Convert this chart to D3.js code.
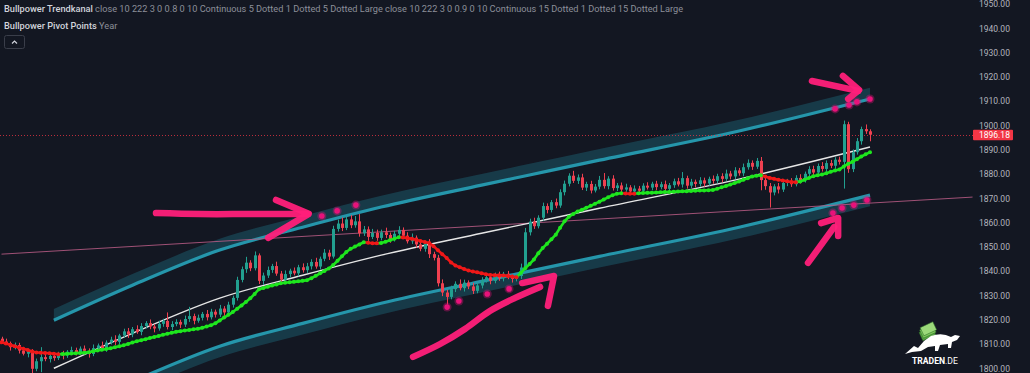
<!DOCTYPE html>
<html lang="en">
<head>
<meta charset="utf-8">
<title>Bullpower Trendkanal</title>
<script src="https://d3js.org/d3.v7.min.js"></script>
<style>
  html, body { margin: 0; padding: 0; background: #131722; overflow: hidden; }
  svg { display: block; }
  text { font-family: Roboto, "DejaVu Sans", sans-serif; }
</style>
</head>
<body>
<script>
const w = 1030, h = 373;

// candles: open of a bar is the close of the bar before
const firstOpen = 1812.2;
const closes = [
  1811.0, 1810.4, 1808.7, 1809.6, 1807.3, 1806.0, 1807.4, 1799.8, 1802.9, 1804.6,
  1803.8, 1805.1, 1804.2, 1806.0, 1805.3, 1806.8, 1807.5, 1806.6, 1808.1, 1807.2,
  1805.9, 1808.3, 1809.4, 1808.2, 1810.6, 1811.8, 1810.9, 1813.5, 1815.2, 1814.0,
  1816.1, 1815.0, 1817.4, 1818.6, 1817.2, 1816.4, 1818.3, 1819.5, 1817.0, 1818.2,
  1819.1, 1818.0, 1820.3, 1821.5, 1819.6, 1820.8, 1822.4, 1821.0, 1823.3, 1822.1,
  1824.6, 1823.0, 1826.2, 1829.0, 1836.4, 1840.8, 1843.5, 1841.2, 1846.5, 1836.0,
  1838.2, 1840.5, 1842.1, 1839.0, 1836.5, 1838.8, 1840.2, 1839.1, 1841.6, 1840.4,
  1842.0, 1843.8, 1841.9, 1845.1, 1847.6, 1846.0, 1857.4, 1859.6, 1857.8, 1861.3,
  1858.9, 1860.5, 1855.6, 1857.2, 1854.1, 1855.8, 1853.7, 1856.0, 1854.9, 1853.2,
  1855.4, 1857.0, 1854.6, 1852.3, 1853.8, 1851.0, 1849.2, 1851.4, 1847.0, 1845.5,
  1835.0, 1831.2, 1829.4, 1832.6, 1834.8, 1833.0, 1835.3, 1833.7, 1831.9, 1834.1,
  1836.2, 1837.5, 1836.0, 1838.4, 1837.1, 1838.9, 1837.6, 1836.8, 1838.0, 1841.5,
  1856.0, 1860.4, 1858.5, 1862.0, 1866.8, 1865.2, 1868.4, 1867.0, 1872.5, 1876.0,
  1879.3, 1877.2, 1878.6, 1874.4, 1875.9, 1873.2, 1874.8, 1877.6, 1875.0, 1878.1,
  1874.2, 1875.3, 1873.6, 1874.5, 1872.8, 1874.0, 1873.1, 1875.2, 1874.4, 1876.0,
  1874.6, 1875.8, 1873.9, 1875.4, 1877.0, 1875.7, 1878.3, 1875.2, 1876.8, 1875.9,
  1877.4, 1876.1, 1878.0, 1877.2, 1879.1, 1878.0, 1880.2, 1879.0, 1881.5, 1880.3,
  1882.8, 1884.6, 1883.0, 1885.4, 1877.5, 1875.0, 1872.4, 1874.9, 1873.6, 1876.3,
  1877.0, 1875.8, 1878.4, 1877.5, 1880.1, 1882.0, 1880.6, 1883.3, 1882.1, 1884.5,
  1883.4, 1885.9, 1885.0, 1900.5, 1882.0, 1889.0, 1893.5, 1898.5, 1897.6, 1896.18
];
const wickUp = [
  0.8, 1.2, 0.6, 1.0, 0.9, 1.5, 0.7, 0.5, 1.1, 4.1,
  1.3, 0.9, 1.6, 0.8, 1.2, 0.7, 1.4, 1.0, 0.9, 1.3,
  1.0, 1.5, 0.8, 1.6, 0.9, 1.2, 1.8, 0.7, 1.1, 1.4,
  0.9, 1.6, 1.2, 0.8, 1.5, 1.0, 1.3, 0.9, 3.5, 1.2,
  1.1, 0.9, 1.4, 3.8, 1.0, 1.3, 0.8, 1.6, 1.2, 0.9,
  1.5, 1.0, 1.2, 0.9, 1.3, 1.1, 2.4, 1.0, 1.6, 0.8,
  1.2, 1.4, 0.9, 1.8, 1.1, 1.5, 0.8, 1.3, 1.0, 1.6,
  1.4, 1.1, 1.7, 0.9, 1.5, 1.2, 1.3, 1.6, 2.5, 1.1,
  1.8, 2.2, 3.0, 1.4, 1.2, 1.6, 1.3, 1.1, 1.9, 1.0,
  1.2, 1.5, 1.0, 1.4, 1.7, 0.9, 1.3, 1.1, 1.8, 1.0,
  1.2, 1.6, 1.1, 1.4, 1.0, 1.8, 1.2, 0.9, 1.5, 1.1,
  1.3, 0.9, 1.5, 1.0, 1.4, 0.8, 1.2, 1.0, 0.9, 1.6,
  1.8, 1.2, 1.6, 1.0, 1.4, 1.1, 0.9, 1.5, 1.2, 1.3,
  1.0, 2.0, 1.2, 1.5, 0.9, 1.3, 1.1, 1.6, 2.8, 1.0,
  1.4, 1.0, 1.2, 1.5, 0.9, 1.3, 1.1, 1.0, 1.4, 0.8,
  1.2, 1.0, 1.5, 0.9, 1.1, 1.4, 2.5, 1.0, 1.2, 0.9,
  1.3, 1.1, 0.9, 1.4, 1.0, 1.2, 1.6, 1.1, 1.3, 1.0,
  1.5, 1.4, 1.0, 1.2, 1.6, 1.1, 1.3, 0.9, 1.4, 1.2,
  1.0, 1.3, 1.1, 1.5, 0.9, 1.2, 1.4, 1.0, 1.6, 1.1,
  1.3, 1.0, 1.2, 1.5, 1.0, 1.1, 1.3, 1.0, 1.9, 0.8
];
const wickDn = [
  1.0, 0.8, 1.4, 0.9, 1.2, 0.7, 1.5, 2.3, 1.0, 4.5,
  0.9, 1.4, 1.1, 0.8, 1.6, 1.0, 0.9, 1.3, 0.8, 1.2,
  1.5, 0.9, 1.2, 1.0, 1.4, 0.8, 1.3, 1.1, 0.9, 1.5,
  1.2, 0.8, 1.4, 1.0, 1.1, 1.6, 0.9, 1.2, 1.0, 1.3,
  0.9, 1.4, 1.0, 1.2, 1.5, 0.8, 1.1, 1.3, 0.9, 1.2,
  1.0, 1.4, 0.9, 1.2, 1.1, 1.0, 1.5, 1.2, 0.9, 1.3,
  1.6, 1.0, 1.2, 0.9, 1.4, 1.1, 1.3, 0.8, 1.2, 1.0,
  1.1, 1.3, 0.9, 1.2, 1.0, 1.4, 0.8, 1.1, 1.3, 0.9,
  1.2, 1.0, 1.4, 1.1, 1.6, 0.9, 1.2, 1.0, 1.3, 1.5,
  1.0, 1.2, 1.4, 0.9, 1.1, 1.3, 1.0, 1.2, 1.6, 1.1,
  1.3, 1.5, 3.2, 1.0, 1.2, 0.9, 1.4, 1.1, 1.3, 1.0,
  1.2, 0.9, 1.4, 1.0, 1.1, 1.3, 0.9, 1.5, 1.0, 1.2,
  1.0, 1.3, 1.1, 0.9, 1.2, 1.4, 1.0, 1.1, 0.9, 1.3,
  1.1, 0.9, 1.3, 1.0, 1.4, 1.2, 0.8, 1.1, 1.0, 1.3,
  1.0, 1.2, 1.5, 0.9, 1.1, 1.3, 1.0, 1.2, 0.8, 1.1,
  1.2, 0.9, 1.4, 1.0, 1.1, 0.8, 1.3, 1.2, 1.0, 1.4,
  1.1, 1.3, 0.9, 1.2, 1.0, 1.4, 0.8, 1.2, 1.1, 1.0,
  1.2, 1.0, 1.3, 0.9, 4.2, 1.5, 6.2, 1.2, 1.6, 1.0,
  1.3, 1.1, 0.9, 1.4, 1.0, 1.2, 1.3, 0.9, 1.1, 1.2,
  1.0, 1.3, 1.1, 11.0, 1.5, 1.2, 1.0, 1.4, 1.1, 2.7
];

// smoothed trend line (green rising, red falling)
const trendMa = [
  1810.7, 1810.2, 1809.7, 1809.1, 1808.6, 1808.05, 1807.5, 1806.9, 1806.5, 1806.4,
  1806.3, 1806.2, 1806.0, 1805.8, 1805.85, 1805.95, 1806.1, 1806.2, 1806.3, 1806.45,
  1806.6, 1807.0, 1807.35, 1807.65, 1807.95, 1808.25, 1808.7, 1809.1, 1809.45, 1810.0,
  1810.6, 1811.1, 1811.6, 1812.0, 1812.5, 1812.9, 1813.3, 1813.8, 1814.2, 1814.65,
  1815.0, 1815.3, 1815.55, 1815.8, 1816.05, 1816.3, 1816.65, 1817.2, 1817.75, 1818.5,
  1819.7, 1820.9, 1822.0, 1823.15, 1824.5, 1825.9, 1827.3, 1828.8, 1830.6, 1832.6,
  1833.1, 1833.6, 1834.1, 1834.5, 1835.0, 1835.2, 1835.4, 1835.6, 1835.8, 1836.0,
  1836.3, 1837.1, 1838.1, 1839.1, 1840.1, 1841.1, 1842.5, 1844.3, 1846.1, 1847.9,
  1849.2, 1850.1, 1851.0, 1851.9, 1851.7, 1851.5, 1851.45, 1851.6, 1852.1, 1852.7,
  1853.3, 1854.0, 1853.9, 1853.6, 1853.3, 1852.9, 1852.4, 1852.0, 1851.6, 1850.3,
  1848.6, 1847.0, 1845.4, 1843.6, 1842.3, 1841.6, 1840.9, 1840.3, 1839.9, 1839.5,
  1839.1, 1838.7, 1838.4, 1838.35, 1838.3, 1838.25, 1838.0, 1837.8, 1837.5, 1839.3,
  1841.2, 1842.9, 1844.8, 1847.4, 1849.5, 1851.3, 1853.1, 1855.0, 1857.9, 1860.5,
  1862.4, 1863.5, 1864.6, 1865.3, 1866.1, 1866.9, 1867.8, 1868.6, 1869.5, 1870.4,
  1871.3, 1871.9, 1872.1, 1872.0, 1871.9, 1871.85, 1872.1, 1872.2, 1872.25, 1872.3,
  1872.35, 1872.45, 1872.55, 1872.6, 1872.7, 1872.8, 1872.85, 1872.9, 1873.0, 1873.1,
  1873.2, 1873.25, 1873.3, 1873.4, 1873.9, 1874.5, 1875.1, 1875.7, 1876.3, 1876.95,
  1877.6, 1878.3, 1878.95, 1879.3, 1879.5, 1879.0, 1878.4, 1878.0, 1877.6, 1877.3,
  1877.0, 1876.7, 1876.65, 1876.9, 1877.6, 1878.4, 1879.1, 1879.5, 1879.8, 1880.3,
  1880.9, 1881.4, 1881.9, 1883.1, 1884.2, 1885.0, 1886.1, 1887.2, 1888.1, 1889.0
];

// trend channel: middle line read at a few bars, bands at +/- channelWidth
const channelIdx = [12, 30, 50, 69, 87, 110, 121, 137, 169, 199];
const channelMid = [1800.0, 1814.4, 1828.9, 1838.3, 1846.6, 1855.6, 1859.8, 1865.9, 1877.9, 1891.1];
const channelWidth = 19.8;
const bandDepth = 4.6;

// yearly pivot line and the touch markers on the channel
const pivotLine = [[0, 1847.0], [222.5, 1870.5]];
const touchDots = [
  [73.4, 1862.7], [76.9, 1864.8], [81.2, 1867.2],
  [102.1, 1825.2], [104.8, 1827.7], [111.3, 1830.6], [116.3, 1832.7],
  [191.0, 1906.8], [194.2, 1908.4], [196.0, 1909.7], [199.0, 1910.9],
  [190.5, 1863.9], [192.6, 1866.0], [195.3, 1867.2], [198.3, 1869.3]
];

// hand drawn arrows [bar, price]
const arrows = [
  { shaft: [[35.4, 1863.9], [45.5, 1863.5], [56.9, 1863.5], [70.2, 1863.5]],
    head: [[62.9, 1869.3], [70.4, 1863.6], [61.1, 1853.7]] },
  { shaft: [[94.3, 1804.7], [100.5, 1810.0], [106.2, 1816.2], [111.9, 1823.6], [117.7, 1829.0], [123.4, 1833.5]],
    head: [[119.3, 1835.1], [126.6, 1838.0], [125.2, 1825.7]] },
  { shaft: [[185.7, 1918.3], [196.3, 1914.2]],
    head: [[192.8, 1920.4], [196.5, 1914.6], [194.0, 1910.9]] },
  { shaft: [[184.8, 1843.4], [190.8, 1858.2]],
    head: [[187.8, 1859.8], [191.7, 1861.9], [191.7, 1854.5]] }
];

const priceTicks = [1800, 1810, 1820, 1830, 1840, 1850, 1860, 1870, 1880, 1890, 1900, 1910, 1920, 1930, 1940, 1950];
const lastPrice = 1896.18;

const upColor = "#22a090";
const downColor = "#ef4050";
const channelColor = "#2596ab";
const pinkColor = "#ff1f7a";

const svg = d3.select("body")
  .append("svg")
  .attr("width", w)
  .attr("height", h);

svg.append("rect")
  .attr("width", w)
  .attr("height", h)
  .attr("fill", "#131722");

const x = d3.scaleLinear().domain([0, closes.length - 1]).range([1.5, 870]);
const y = d3.scaleLinear().domain([1800, 1950]).range([368.3, 4]);
const paneRight = 973;

const chart = svg.append("g");

// channel bands
const channel = channelIdx.map((d, i) => ({ i: d, mid: channelMid[i] }));

const bandArea = (off, depth) => d3.area()
  .x(d => x(d.i))
  .y0(d => y(d.mid + off))
  .y1(d => y(d.mid + off + depth))
  .curve(d3.curveMonotoneX);

const bandLine = off => d3.line()
  .x(d => x(d.i))
  .y(d => y(d.mid + off))
  .curve(d3.curveMonotoneX);

chart.append("path")
  .datum(channel)
  .attr("d", bandArea(channelWidth, bandDepth))
  .attr("fill", channelColor)
  .attr("fill-opacity", 0.28);

chart.append("path")
  .datum(channel)
  .attr("d", bandArea(-channelWidth, -bandDepth))
  .attr("fill", channelColor)
  .attr("fill-opacity", 0.28);

[channelWidth, -channelWidth].forEach(off => {
  chart.append("path")
    .datum(channel)
    .attr("d", bandLine(off))
    .attr("fill", "none")
    .attr("stroke", channelColor)
    .attr("stroke-width", 3.2);
});

// pivot line
chart.append("line")
  .attr("x1", x(pivotLine[0][0]))
  .attr("y1", y(pivotLine[0][1]))
  .attr("x2", x(pivotLine[1][0]))
  .attr("y2", y(pivotLine[1][1]))
  .attr("stroke", "#b85c85")
  .attr("stroke-opacity", 0.85)
  .attr("stroke-width", 1);

// last price line
chart.append("line")
  .attr("x1", 0)
  .attr("x2", paneRight)
  .attr("y1", Math.round(y(lastPrice)) + 0.5)
  .attr("y2", Math.round(y(lastPrice)) + 0.5)
  .attr("stroke", "#f23645")
  .attr("stroke-opacity", 0.75)
  .attr("stroke-dasharray", "1,2");

// middle line
chart.append("path")
  .datum(channel)
  .attr("d", bandLine(0))
  .attr("fill", "none")
  .attr("stroke", "#e6e6e6")
  .attr("stroke-width", 1.4);

// candles
const bars = closes.map((c, i) => {
  const o = i === 0 ? firstOpen : closes[i - 1];
  return {
    i: i, o: o, c: c,
    hi: Math.max(o, c) + wickUp[i],
    lo: Math.min(o, c) - wickDn[i]
  };
});

const candle = chart.append("g")
  .selectAll("g")
  .data(bars)
  .enter()
  .append("g")
  .attr("fill", d => d.c >= d.o ? upColor : downColor)
  .attr("stroke", d => d.c >= d.o ? upColor : downColor);

candle.append("line")
  .attr("x1", d => Math.round(x(d.i)) + 0.5)
  .attr("x2", d => Math.round(x(d.i)) + 0.5)
  .attr("y1", d => y(d.hi))
  .attr("y2", d => y(d.lo))
  .attr("stroke-width", 1);

candle.append("rect")
  .attr("x", d => Math.round(x(d.i)) - 1)
  .attr("width", 3)
  .attr("y", d => y(Math.max(d.o, d.c)))
  .attr("height", d => Math.max(1, y(Math.min(d.o, d.c)) - y(Math.max(d.o, d.c))))
  .attr("stroke", "none");

// trend line with dots
const maColor = i => (i === 0 || trendMa[i] < trendMa[i - 1]) ? "#f01818" : "#1ee61e";

chart.append("g")
  .selectAll("line")
  .data(trendMa.slice(1))
  .enter()
  .append("line")
  .attr("x1", (d, k) => x(k))
  .attr("y1", (d, k) => y(trendMa[k]))
  .attr("x2", (d, k) => x(k + 1))
  .attr("y2", d => y(d))
  .attr("stroke", (d, k) => maColor(k + 1))
  .attr("stroke-width", 2.6);

chart.append("g")
  .selectAll("circle")
  .data(trendMa)
  .enter()
  .append("circle")
  .attr("cx", (d, i) => x(i))
  .attr("cy", d => y(d))
  .attr("r", 2)
  .attr("fill", (d, i) => maColor(i));

// touch markers
const dots = chart.append("g")
  .selectAll("g")
  .data(touchDots)
  .enter()
  .append("g");

dots.append("circle")
  .attr("cx", d => x(d[0]))
  .attr("cy", d => y(d[1]))
  .attr("r", 4.5)
  .attr("fill", "#e8127a")
  .attr("fill-opacity", 0.35);

dots.append("circle")
  .attr("cx", d => x(d[0]))
  .attr("cy", d => y(d[1]))
  .attr("r", 2.8)
  .attr("fill", "#e8127a");

// arrows
const arrowLine = d3.line()
  .x(d => x(d[0]))
  .y(d => y(d[1]))
  .curve(d3.curveCatmullRom);

const arrowHead = d3.line()
  .x(d => x(d[0]))
  .y(d => y(d[1]));

arrows.forEach(a => {
  [arrowLine(a.shaft), arrowHead(a.head)].forEach(p => {
    chart.append("path")
      .attr("d", p)
      .attr("fill", "none")
      .attr("stroke", pinkColor)
      .attr("stroke-width", 6.5)
      .attr("stroke-linecap", "round")
      .attr("stroke-linejoin", "round")
      .attr("stroke-opacity", 0.95);
  });
});

// price axis
const yAxis = d3.axisRight(y)
  .tickValues(priceTicks)
  .tickFormat(d3.format(".2f"))
  .tickSize(0)
  .tickPadding(0);

const axisG = svg.append("g")
  .attr("transform", "translate(979,0)")
  .call(yAxis);

axisG.select(".domain").remove();
axisG.selectAll("text")
  .attr("fill", "#b2b5be")
  .attr("font-size", 8.5)
  .attr("font-family", "Roboto, sans-serif");

// last price label
const lastY = y(lastPrice);
svg.append("rect")
  .attr("x", paneRight)
  .attr("y", lastY - 5)
  .attr("width", 40)
  .attr("height", 10.5)
  .attr("rx", 1)
  .attr("fill", "#f23645");

svg.append("text")
  .attr("x", 979)
  .attr("y", lastY + 3.2)
  .attr("fill", "#ffffff")
  .attr("font-size", 8.5)
  .text(d3.format(".2f")(lastPrice));

// legend
const legend = svg.append("g").attr("font-size", 9.2);

const l1 = legend.append("text").attr("x", 4).attr("y", 11.5);
l1.append("tspan").attr("fill", "#d1d4dc").attr("font-weight", 500).text("Bullpower Trendkanal");
l1.append("tspan").attr("fill", "#8c8f99")
  .text(" close 10 222 3 0 0.8 0 10 Continuous 5 Dotted 1 Dotted 5 Dotted Large close 10 222 3 0 0.9 0 10 Continuous 15 Dotted 1 Dotted 15 Dotted Large");

const l2 = legend.append("text").attr("x", 4).attr("y", 28.5);
l2.append("tspan").attr("fill", "#d1d4dc").attr("font-weight", 500).text("Bullpower Pivot Points");
l2.append("tspan").attr("fill", "#8c8f99").text(" Year");

legend.append("rect")
  .attr("x", 4.5).attr("y", 35.5)
  .attr("width", 20).attr("height", 13)
  .attr("rx", 2)
  .attr("fill", "none")
  .attr("stroke", "#3a3e4a");

legend.append("path")
  .attr("d", "M12,43.5 L14.5,41 L17,43.5")
  .attr("fill", "none")
  .attr("stroke", "#d1d4dc")
  .attr("stroke-width", 1.2);

// logo
const logo = svg.append("g");
logo.append("g")
  .attr("transform", "translate(928,335) rotate(-25)")
  .selectAll("rect")
  .data([0, 1, 2])
  .enter()
  .append("rect")
  .attr("x", d => -7 + d * 1.5)
  .attr("y", d => -6 - d * 2)
  .attr("width", 14)
  .attr("height", 9)
  .attr("fill", (d, i) => ["#5aa845", "#7cc85a", "#9bd97a"][i])
  .attr("stroke", "#2f6b2a")
  .attr("stroke-width", 0.5);

logo.append("path")
  .attr("d", "M905,354 L914,346 L918,348 L924,341 L931,336 Q942,332 951,337 L955,335 L960,336 L957,340 L952,342 L951,348 L948,348 L948,344 L940,345 L938,351 L935,351 L935,346 L928,347 L921,351 L912,352 Z")
  .attr("fill", "#ffffff");

const logoText = logo.append("text")
  .attr("x", 912)
  .attr("y", 363.5)
  .attr("font-size", 8.6)
  .attr("fill", "#ffffff");
logoText.append("tspan").attr("font-weight", 700).text("TRADEN");
logoText.append("tspan").text(".DE");
</script>
</body>
</html>
